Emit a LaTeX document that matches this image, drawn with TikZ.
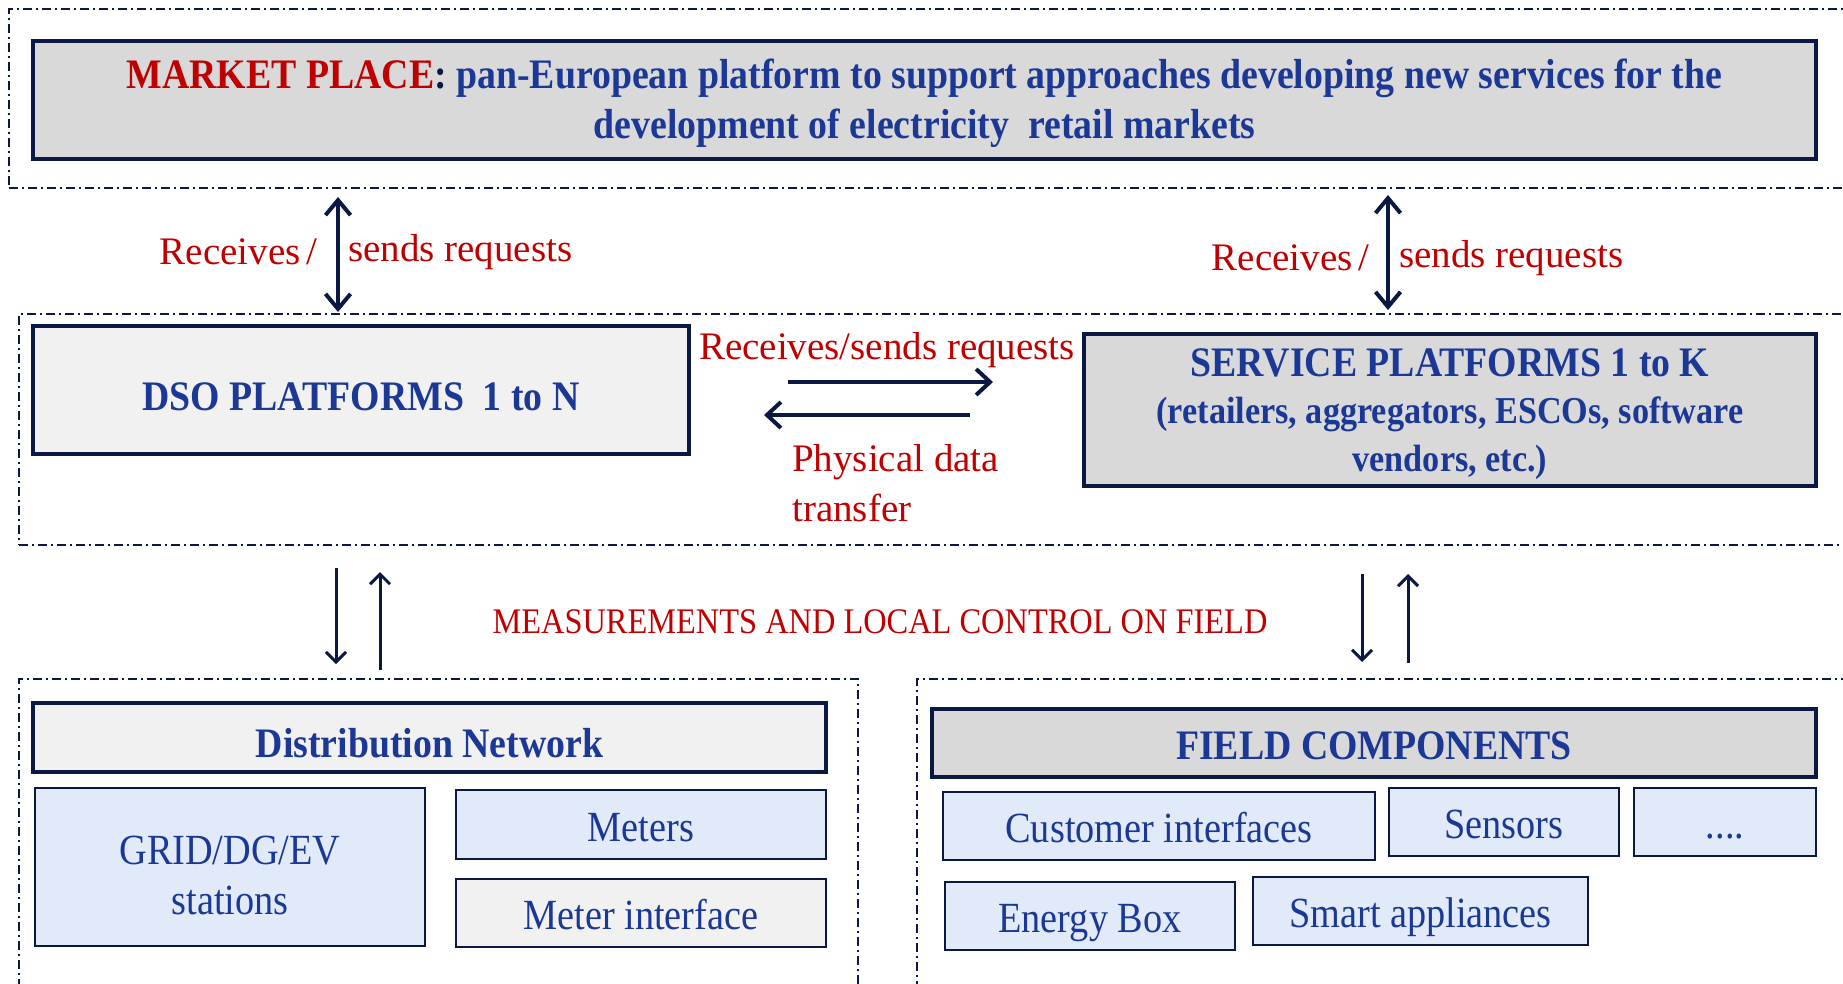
\documentclass[tikz,border=0pt]{standalone}
\usepackage{fontspec}
\setmainfont{Liberation Serif}
\newfontfamily\cnd[FakeStretch=0.9]{Liberation Serif}
\newfontfamily\cndr[FakeStretch=0.89]{Liberation Serif}
\usetikzlibrary{arrows.meta}
\definecolor{navy}{RGB}{12,24,68}
\definecolor{tblue}{RGB}{28,56,150}
\definecolor{tred}{RGB}{192,0,0}
\definecolor{gfill}{RGB}{217,217,217}
\definecolor{lgfill}{RGB}{241,241,241}
\definecolor{bfill}{RGB}{224,234,248}
\tikzset{
  cont/.style={draw=navy, line width=1.6pt, dash pattern=on 9pt off 4pt on 2pt off 4pt, inner sep=0pt},
  bigbox/.style={draw=navy, line width=4pt, inner sep=0pt, align=center, text=tblue, font=\cnd\bfseries\fontsize{42}{49.5}\selectfont},
  smallbox/.style={draw=navy, line width=2.2pt, fill=bfill, inner sep=0pt, align=center, text=tblue, font=\cndr\fontsize{43}{50}\selectfont},
  oneline/.style={text height=33pt, text depth=0pt},
  redlbl/.style={text=tred, inner sep=0pt, font=\fontsize{39}{50}\selectfont},
  arr/.style={draw=navy, line width=4pt, -{Straight Barb[length=14pt,width=26pt,line width=4pt]}},
  darr/.style={draw=navy, line width=4pt, {Straight Barb[length=15pt,width=25pt,line width=4pt]}-{Straight Barb[length=15pt,width=25pt,line width=4pt]}},
  varr/.style={draw=navy, line width=3pt, -{Straight Barb[length=10pt,width=20pt,line width=3pt]}}
}
\begin{document}
\begin{tikzpicture}[x=1pt,y=-1pt]
\useasboundingbox (0,0) rectangle (1843,983);
\fill[white] (0,0) rectangle (1843,983);

% containers
\node[cont, minimum width=1841pt, minimum height=179pt] (topc) at (929.5,98.5) {};
\node[cont, minimum width=1831pt, minimum height=231pt] (midc) at (934.5,429.5) {};
\node[cont, minimum width=839pt, minimum height=321pt] (blc) at (438.5,839.5) {};
\node[cont, minimum width=933pt, minimum height=321pt] (brc) at (1383.5,839.5) {};

% market place
\node[bigbox, fill=gfill, minimum width=1783pt, minimum height=118pt] (market) at (924.5,100)
  {\rule{0pt}{36pt}{\color{tred}MARKET PLACE}{\color{navy}:} pan-European platform to support approaches developing new services for the\\development of electricity\ \ retail markets};

% platforms
\node[bigbox, line width=3.5pt, fill=lgfill, minimum width=656pt, minimum height=128pt, text height=40pt, text depth=0pt] (dso) at (361,390)
  {DSO PLATFORMS\ \ 1 to N};
\node[bigbox, line width=3.5pt, fill=gfill, minimum width=732pt, minimum height=152pt, font=\cnd\bfseries\fontsize{42}{47.5}\selectfont] (svc) at (1450,410)
  {\rule{0pt}{36pt}SERVICE PLATFORMS 1 to K\\{\fontsize{38}{47.5}\selectfont(retailers, aggregators, ESCOs, software}\\{\fontsize{38}{47.5}\selectfont vendors, etc.)}};

% distribution network
\node[bigbox, line width=3.5pt, fill=lgfill, minimum width=793pt, minimum height=69pt, text height=39pt, text depth=0pt] (dn) at (429.5,737.5) {Distribution Network};
\node[smallbox, minimum width=390pt, minimum height=158pt] (grid) at (230,867) {\rule{0pt}{46pt}GRID/DG/EV\\stations};
\node[smallbox, oneline, minimum width=370pt, minimum height=69pt] (meters) at (641,824.5) {Meters};
\node[smallbox, oneline, fill=lgfill, minimum width=370pt, minimum height=68pt] (mi) at (641,913) {Meter interface};

% field components
\node[bigbox, line width=3.5pt, fill=gfill, minimum width=884pt, minimum height=68pt, text height=32pt, text depth=0pt] (field) at (1374,743) {FIELD COMPONENTS};
\node[smallbox, oneline, minimum width=432pt, minimum height=68pt] (ci) at (1159,826) {Customer interfaces};
\node[smallbox, oneline, minimum width=230pt, minimum height=68pt] (sens) at (1504,822) {Sensors};
\node[smallbox, oneline, minimum width=182pt, minimum height=68pt] (dots) at (1725,822) {....};
\node[smallbox, oneline, minimum width=290pt, minimum height=68pt] (eb) at (1090,916) {Energy Box};
\node[smallbox, oneline, minimum width=335pt, minimum height=68pt] (sa) at (1420.5,911) {Smart appliances};

% vertical double arrows
\coordinate (la) at (338,197);
\coordinate (lb) at (338,312);
\coordinate (ra) at (1388,195);
\coordinate (rb) at (1388,310);
\draw[darr] (la) -- (lb);
\draw[darr] (ra) -- (rb);
\node[redlbl, anchor=east] (l1a) at (318,252) {Receives\,/};
\node[redlbl, anchor=west] (l1b) at (348,252) {sends requests};
\node[redlbl, anchor=east] (l2a) at (1370,258) {Receives\,/};
\node[redlbl, anchor=west] (l2b) at (1399,258) {sends requests};

% horizontal arrows
\coordinate (h1s) at (788,382);
\coordinate (h1e) at (993,382);
\coordinate (h2s) at (970,415);
\coordinate (h2e) at (764,415);
\draw[arr] (h1s) -- (h1e);
\draw[arr] (h2s) -- (h2e);
\node[redlbl] (rs) at (887,350) {Receives/sends requests};
\node[redlbl, anchor=west, align=left] (pdt) at (792,483) {Physical data\\transfer};

% lower arrows
\coordinate (d1s) at (336,568);
\coordinate (d1e) at (336,664);
\coordinate (u1s) at (380,670);
\coordinate (u1e) at (380,572);
\coordinate (d2s) at (1362,574);
\coordinate (d2e) at (1362,662);
\coordinate (u2s) at (1408,663);
\coordinate (u2e) at (1408,574);
\draw[varr] (d1s) -- (d1e);
\draw[varr] (u1s) -- (u1e);
\draw[varr] (d2s) -- (d2e);
\draw[varr] (u2s) -- (u2e);
\node[redlbl, font=\cnd\fontsize{36}{40}\selectfont] (meas) at (880,622) {MEASUREMENTS AND LOCAL CONTROL ON FIELD};
\end{tikzpicture}
\end{document}
